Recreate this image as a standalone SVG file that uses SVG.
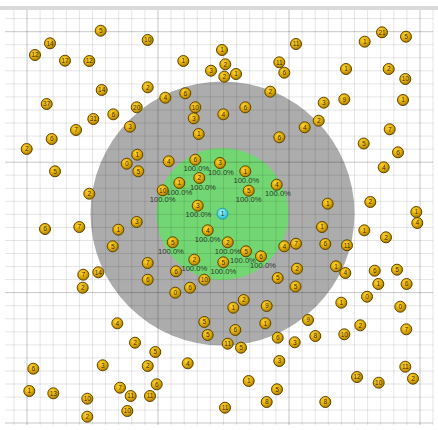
<svg xmlns="http://www.w3.org/2000/svg" width="438" height="430" viewBox="0 0 438 430">
<defs>
<radialGradient id="gy" cx="40%" cy="35%" r="65%">
<stop offset="0" stop-color="#ffd83a"/>
<stop offset="0.6" stop-color="#e0aa00"/>
<stop offset="1" stop-color="#a87c00"/>
</radialGradient>
<radialGradient id="gc" cx="40%" cy="35%" r="65%">
<stop offset="0" stop-color="#9ff4ff"/>
<stop offset="1" stop-color="#1fc0d8"/>
</radialGradient>
<style>
.mi{stroke:#000;stroke-opacity:0.1;stroke-width:1}
.ma{stroke:#000;stroke-opacity:0.22;stroke-width:1}
.nd{fill:url(#gy);stroke:#5e4500;stroke-width:1}
.cy{fill:url(#gc);stroke:#168ea0;stroke-width:0.8}
.nt{font-family:"Liberation Sans",Arial,sans-serif;font-size:6.5px;fill:#3c2a00;text-anchor:middle}
.lb{font-family:"Liberation Sans",Arial,sans-serif;font-size:7.6px;fill:#2a3a2a;text-anchor:middle}
</style>
</defs>
<rect width="438" height="430" fill="#ffffff"/>
<rect x="0" y="6" width="438" height="4" fill="#dadada"/>
<circle id="range-outer" cx="222.5" cy="213.5" r="132" fill="#acacac"/>
<circle id="range-inner" cx="222.5" cy="214" r="66" fill="#72d672"/>
<g id="grid">
<path class="mi" d="M5 18.6H433M5 44.7H433M5 57.8H433M5 70.8H433M5 83.9H433M5 96.9H433M5 110H433M5 123H433M5 136.1H433M5 149.1H433M5 175.2H433M5 188.3H433M5 201.3H433M5 214.4H433M5 227.4H433M5 240.5H433M5 253.5H433M5 266.6H433M5 279.6H433M5 305.7H433M5 318.8H433M5 331.8H433M5 344.9H433M5 357.9H433M5 371H433M5 384H433M5 397.1H433M5 410.1H433"/>
<path class="mi" d="M13.9 10V425M40.1 10V425M53.2 10V425M66.3 10V425M79.4 10V425M92.5 10V425M105.6 10V425M118.7 10V425M131.8 10V425M144.9 10V425M171.1 10V425M184.2 10V425M197.3 10V425M210.4 10V425M223.5 10V425M236.6 10V425M249.7 10V425M262.8 10V425M275.9 10V425M302.1 10V425M315.2 10V425M328.3 10V425M341.4 10V425M354.5 10V425M367.6 10V425M380.7 10V425M393.8 10V425M406.9 10V425M433 10V425"/>
<path class="ma" d="M5 31.7H433M5 162.2H433M5 292.6H433M5 423H433M27 10V425M158 10V425M289 10V425M420 10V425"/>
</g>
<g id="nodes">
<g id="n1"><circle class="nd" cx="100.7" cy="30.7" r="5.5"/><text class="nt" x="100.7" y="33">5</text></g>
<g id="n2"><circle class="nd" cx="50" cy="43.3" r="5.5"/><text class="nt" x="50" y="45.6">14</text></g>
<g id="n3"><circle class="nd" cx="35" cy="55" r="5.5"/><text class="nt" x="35" y="57.3">12</text></g>
<g id="n4"><circle class="nd" cx="65" cy="60.7" r="5.5"/><text class="nt" x="65" y="63">17</text></g>
<g id="n5"><circle class="nd" cx="89.3" cy="61" r="5.5"/><text class="nt" x="89.3" y="63.3">12</text></g>
<g id="n6"><circle class="nd" cx="101.7" cy="90" r="5.5"/><text class="nt" x="101.7" y="92.3">14</text></g>
<g id="n7"><circle class="nd" cx="46.7" cy="104" r="5.5"/><text class="nt" x="46.7" y="106.3">37</text></g>
<g id="n8"><circle class="nd" cx="113.3" cy="114.3" r="5.5"/><text class="nt" x="113.3" y="116.6">6</text></g>
<g id="n9"><circle class="nd" cx="93.3" cy="119" r="5.5"/><text class="nt" x="93.3" y="121.3">31</text></g>
<g id="n10"><circle class="nd" cx="136.7" cy="107.3" r="5.5"/><text class="nt" x="136.7" y="109.6">20</text></g>
<g id="n11"><circle class="nd" cx="130" cy="126.7" r="5.5"/><text class="nt" x="130" y="129">3</text></g>
<g id="n12"><circle class="nd" cx="76" cy="130" r="5.5"/><text class="nt" x="76" y="132.3">7</text></g>
<g id="n13"><circle class="nd" cx="51.7" cy="139" r="5.5"/><text class="nt" x="51.7" y="141.3">6</text></g>
<g id="n14"><circle class="nd" cx="147.7" cy="40" r="5.5"/><text class="nt" x="147.7" y="42.3">10</text></g>
<g id="n15"><circle class="nd" cx="222" cy="50" r="5.5"/><text class="nt" x="222" y="52.3">1</text></g>
<g id="n16"><circle class="nd" cx="183.3" cy="61" r="5.5"/><text class="nt" x="183.3" y="63.3">1</text></g>
<g id="n17"><circle class="nd" cx="225.3" cy="64.3" r="5.5"/><text class="nt" x="225.3" y="66.6">2</text></g>
<g id="n18"><circle class="nd" cx="211" cy="70.7" r="5.5"/><text class="nt" x="211" y="73">3</text></g>
<g id="n19"><circle class="nd" cx="224.3" cy="76.7" r="5.5"/><text class="nt" x="224.3" y="79">2</text></g>
<g id="n20"><circle class="nd" cx="236" cy="74" r="5.5"/><text class="nt" x="236" y="76.3">1</text></g>
<g id="n21"><circle class="nd" cx="279.3" cy="62.3" r="5.5"/><text class="nt" x="279.3" y="64.6">11</text></g>
<g id="n22"><circle class="nd" cx="284.3" cy="72.7" r="5.5"/><text class="nt" x="284.3" y="75">6</text></g>
<g id="n23"><circle class="nd" cx="147.7" cy="87.3" r="5.5"/><text class="nt" x="147.7" y="89.6">2</text></g>
<g id="n24"><circle class="nd" cx="165.3" cy="97.7" r="5.5"/><text class="nt" x="165.3" y="100">4</text></g>
<g id="n25"><circle class="nd" cx="185.3" cy="93.3" r="5.5"/><text class="nt" x="185.3" y="95.6">6</text></g>
<g id="n26"><circle class="nd" cx="195.3" cy="107.3" r="5.5"/><text class="nt" x="195.3" y="109.6">10</text></g>
<g id="n27"><circle class="nd" cx="193.7" cy="118.3" r="5.5"/><text class="nt" x="193.7" y="120.6">3</text></g>
<g id="n28"><circle class="nd" cx="223.3" cy="114.3" r="5.5"/><text class="nt" x="223.3" y="116.6">4</text></g>
<g id="n29"><circle class="nd" cx="245.3" cy="107.3" r="5.5"/><text class="nt" x="245.3" y="109.6">6</text></g>
<g id="n30"><circle class="nd" cx="270.3" cy="91.7" r="5.5"/><text class="nt" x="270.3" y="94">2</text></g>
<g id="n31"><circle class="nd" cx="198.7" cy="134" r="5.5"/><text class="nt" x="198.7" y="136.3">1</text></g>
<g id="n32"><circle class="nd" cx="279.3" cy="137.3" r="5.5"/><text class="nt" x="279.3" y="139.6">6</text></g>
<g id="n33"><circle class="nd" cx="296" cy="44" r="5.5"/><text class="nt" x="296" y="46.3">11</text></g>
<g id="n34"><circle class="nd" cx="364.7" cy="41.7" r="5.5"/><text class="nt" x="364.7" y="44">1</text></g>
<g id="n35"><circle class="nd" cx="382" cy="32.3" r="5.5"/><text class="nt" x="382" y="34.6">21</text></g>
<g id="n36"><circle class="nd" cx="406" cy="36.7" r="5.5"/><text class="nt" x="406" y="39">5</text></g>
<g id="n37"><circle class="nd" cx="346" cy="69" r="5.5"/><text class="nt" x="346" y="71.3">1</text></g>
<g id="n38"><circle class="nd" cx="388.7" cy="69" r="5.5"/><text class="nt" x="388.7" y="71.3">2</text></g>
<g id="n39"><circle class="nd" cx="405.3" cy="79" r="5.5"/><text class="nt" x="405.3" y="81.3">10</text></g>
<g id="n40"><circle class="nd" cx="323.7" cy="102.7" r="5.5"/><text class="nt" x="323.7" y="105">3</text></g>
<g id="n41"><circle class="nd" cx="344.3" cy="99.3" r="5.5"/><text class="nt" x="344.3" y="101.6">9</text></g>
<g id="n42"><circle class="nd" cx="403" cy="100" r="5.5"/><text class="nt" x="403" y="102.3">1</text></g>
<g id="n43"><circle class="nd" cx="318.7" cy="120.7" r="5.5"/><text class="nt" x="318.7" y="123">2</text></g>
<g id="n44"><circle class="nd" cx="304.7" cy="127.3" r="5.5"/><text class="nt" x="304.7" y="129.6">4</text></g>
<g id="n45"><circle class="nd" cx="389.7" cy="129.3" r="5.5"/><text class="nt" x="389.7" y="131.6">7</text></g>
<g id="n46"><circle class="nd" cx="363.7" cy="143.5" r="5.5"/><text class="nt" x="363.7" y="145.8">5</text></g>
<g id="n47"><circle class="nd" cx="398" cy="152.3" r="5.5"/><text class="nt" x="398" y="154.6">6</text></g>
<g id="n48"><circle class="nd" cx="383.7" cy="167.3" r="5.5"/><text class="nt" x="383.7" y="169.6">4</text></g>
<g id="n49"><circle class="nd" cx="327.7" cy="203.7" r="5.5"/><text class="nt" x="327.7" y="206">1</text></g>
<g id="n50"><circle class="nd" cx="370.3" cy="202" r="5.5"/><text class="nt" x="370.3" y="204.3">2</text></g>
<g id="n51"><circle class="nd" cx="416.3" cy="212" r="5.5"/><text class="nt" x="416.3" y="214.3">1</text></g>
<g id="n52"><circle class="nd" cx="417.3" cy="223" r="5.5"/><text class="nt" x="417.3" y="225.3">4</text></g>
<g id="n53"><circle class="nd" cx="322" cy="227" r="5.5"/><text class="nt" x="322" y="229.3">1</text></g>
<g id="n54"><circle class="nd" cx="364.3" cy="230.3" r="5.5"/><text class="nt" x="364.3" y="232.6">1</text></g>
<g id="n55"><circle class="nd" cx="386" cy="237.3" r="5.5"/><text class="nt" x="386" y="239.6">2</text></g>
<g id="n56"><circle class="nd" cx="296" cy="243.7" r="5.5"/><text class="nt" x="296" y="246">7</text></g>
<g id="n57"><circle class="nd" cx="325.3" cy="244" r="5.5"/><text class="nt" x="325.3" y="246.3">6</text></g>
<g id="n58"><circle class="nd" cx="347" cy="245.3" r="5.5"/><text class="nt" x="347" y="247.6">11</text></g>
<g id="n59"><circle class="nd" cx="297" cy="268.7" r="5.5"/><text class="nt" x="297" y="271">2</text></g>
<g id="n60"><circle class="nd" cx="336" cy="266.3" r="5.5"/><text class="nt" x="336" y="268.6">1</text></g>
<g id="n61"><circle class="nd" cx="345.3" cy="273" r="5.5"/><text class="nt" x="345.3" y="275.3">4</text></g>
<g id="n62"><circle class="nd" cx="374.7" cy="270.7" r="5.5"/><text class="nt" x="374.7" y="273">6</text></g>
<g id="n63"><circle class="nd" cx="397" cy="269.7" r="5.5"/><text class="nt" x="397" y="272">5</text></g>
<g id="n64"><circle class="nd" cx="378.3" cy="284" r="5.5"/><text class="nt" x="378.3" y="286.3">1</text></g>
<g id="n65"><circle class="nd" cx="406.6" cy="284" r="5.5"/><text class="nt" x="406.6" y="286.3">6</text></g>
<g id="n66"><circle class="nd" cx="295.5" cy="286.5" r="5.5"/><text class="nt" x="295.5" y="288.8">5</text></g>
<g id="n67"><circle class="nd" cx="26.7" cy="149" r="5.5"/><text class="nt" x="26.7" y="151.3">2</text></g>
<g id="n68"><circle class="nd" cx="55" cy="171.3" r="5.5"/><text class="nt" x="55" y="173.6">5</text></g>
<g id="n69"><circle class="nd" cx="89.3" cy="193.7" r="5.5"/><text class="nt" x="89.3" y="196">2</text></g>
<g id="n70"><circle class="nd" cx="45" cy="229" r="5.5"/><text class="nt" x="45" y="231.3">6</text></g>
<g id="n71"><circle class="nd" cx="79.3" cy="227" r="5.5"/><text class="nt" x="79.3" y="229.3">7</text></g>
<g id="n72"><circle class="nd" cx="118.3" cy="229.7" r="5.5"/><text class="nt" x="118.3" y="232">1</text></g>
<g id="n73"><circle class="nd" cx="136.7" cy="222" r="5.5"/><text class="nt" x="136.7" y="224.3">3</text></g>
<g id="n74"><circle class="nd" cx="112.7" cy="246.3" r="5.5"/><text class="nt" x="112.7" y="248.6">5</text></g>
<g id="n75"><circle class="nd" cx="126.7" cy="163.7" r="5.5"/><text class="nt" x="126.7" y="166">0</text></g>
<g id="n76"><circle class="nd" cx="137.3" cy="154.7" r="5.5"/><text class="nt" x="137.3" y="157">1</text></g>
<g id="n77"><circle class="nd" cx="138.3" cy="171.3" r="5.5"/><text class="nt" x="138.3" y="173.6">5</text></g>
<g id="n78"><circle class="nd" cx="98.3" cy="272.3" r="5.5"/><text class="nt" x="98.3" y="274.6">14</text></g>
<g id="n79"><circle class="nd" cx="83.3" cy="274.7" r="5.5"/><text class="nt" x="83.3" y="277">7</text></g>
<g id="n80"><circle class="nd" cx="168.7" cy="161.3" r="5.5"/><text class="nt" x="168.7" y="163.6">4</text></g>
<g id="n81"><circle class="nd" cx="195.3" cy="159.7" r="5.5"/><text class="nt" x="195.3" y="162">6</text><text class="lb" x="196.3" y="171.2">100.0%</text></g>
<g id="n82"><circle class="nd" cx="220" cy="163" r="5.5"/><text class="nt" x="220" y="165.3">3</text><text class="lb" x="221" y="174.5">100.0%</text></g>
<g id="n83"><circle class="nd" cx="245.3" cy="171.3" r="5.5"/><text class="nt" x="245.3" y="173.6">1</text><text class="lb" x="246.3" y="182.8">100.0%</text></g>
<g id="n84"><circle class="nd" cx="199.3" cy="178" r="5.5"/><text class="nt" x="199.3" y="180.3">2</text><text class="lb" x="203" y="189.5">100.0%</text></g>
<g id="n85"><circle class="nd" cx="179.3" cy="183" r="5.5"/><text class="nt" x="179.3" y="185.3">1</text><text class="lb" x="179.3" y="194.5">100.0%</text></g>
<g id="n86"><circle class="nd" cx="162.7" cy="190.3" r="5.5"/><text class="nt" x="162.7" y="192.6">10</text><text class="lb" x="162.7" y="201.8">100.0%</text></g>
<g id="n87"><circle class="nd" cx="248.7" cy="190.7" r="5.5"/><text class="nt" x="248.7" y="193">5</text><text class="lb" x="248.7" y="202.2">100.0%</text></g>
<g id="n88"><circle class="nd" cx="276.7" cy="184.7" r="5.5"/><text class="nt" x="276.7" y="187">4</text><text class="lb" x="278" y="196.2">100.0%</text></g>
<g id="n89"><circle class="nd" cx="197.7" cy="205.7" r="5.5"/><text class="nt" x="197.7" y="208">3</text><text class="lb" x="198.5" y="217.2">100.0%</text></g>
<g id="n90"><circle class="cy" cx="222.5" cy="213.7" r="5.5"/><text class="nt" x="222.5" y="216">1</text></g>
<g id="n91"><circle class="nd" cx="207.7" cy="230.3" r="5.5"/><text class="nt" x="207.7" y="232.6">4</text><text class="lb" x="207.7" y="241.8">100.0%</text></g>
<g id="n92"><circle class="nd" cx="172.7" cy="242.3" r="5.5"/><text class="nt" x="172.7" y="244.6">5</text><text class="lb" x="171" y="253.8">100.0%</text></g>
<g id="n93"><circle class="nd" cx="227.7" cy="242.3" r="5.5"/><text class="nt" x="227.7" y="244.6">2</text><text class="lb" x="227.7" y="253.8">100.0%</text></g>
<g id="n94"><circle class="nd" cx="246" cy="251.3" r="5.5"/><text class="nt" x="246" y="253.6">5</text><text class="lb" x="243" y="262.8">100.0%</text></g>
<g id="n95"><circle class="nd" cx="261" cy="256.3" r="5.5"/><text class="nt" x="261" y="258.6">6</text><text class="lb" x="263" y="268.4">100.0%</text></g>
<g id="n96"><circle class="nd" cx="194.3" cy="259.7" r="5.5"/><text class="nt" x="194.3" y="262">2</text><text class="lb" x="194.3" y="271.2">100.0%</text></g>
<g id="n97"><circle class="nd" cx="223.3" cy="262.3" r="5.5"/><text class="nt" x="223.3" y="264.6">5</text><text class="lb" x="223.3" y="273.8">100.0%</text></g>
<g id="n98"><circle class="nd" cx="176" cy="271.3" r="5.5"/><text class="nt" x="176" y="273.6">6</text></g>
<g id="n99"><circle class="nd" cx="204.3" cy="279.7" r="5.5"/><text class="nt" x="204.3" y="282">10</text></g>
<g id="n100"><circle class="nd" cx="284.3" cy="246.3" r="5.5"/><text class="nt" x="284.3" y="248.6">4</text></g>
<g id="n101"><circle class="nd" cx="277.7" cy="278" r="5.5"/><text class="nt" x="277.7" y="280.3">5</text></g>
<g id="n102"><circle class="nd" cx="147.7" cy="263" r="5.5"/><text class="nt" x="147.7" y="265.3">7</text></g>
<g id="n103"><circle class="nd" cx="147.7" cy="279.7" r="5.5"/><text class="nt" x="147.7" y="282">6</text></g>
<g id="n104"><circle class="nd" cx="82.7" cy="287.7" r="5.5"/><text class="nt" x="82.7" y="290">2</text></g>
<g id="n105"><circle class="nd" cx="117.3" cy="323.3" r="5.5"/><text class="nt" x="117.3" y="325.6">4</text></g>
<g id="n106"><circle class="nd" cx="135" cy="342.7" r="5.5"/><text class="nt" x="135" y="345">2</text></g>
<g id="n107"><circle class="nd" cx="33.3" cy="368.7" r="5.5"/><text class="nt" x="33.3" y="371">6</text></g>
<g id="n108"><circle class="nd" cx="102.7" cy="365.3" r="5.5"/><text class="nt" x="102.7" y="367.6">3</text></g>
<g id="n109"><circle class="nd" cx="147.7" cy="366" r="5.5"/><text class="nt" x="147.7" y="368.3">2</text></g>
<g id="n110"><circle class="nd" cx="29.3" cy="391" r="5.5"/><text class="nt" x="29.3" y="393.3">1</text></g>
<g id="n111"><circle class="nd" cx="53.3" cy="393.3" r="5.5"/><text class="nt" x="53.3" y="395.6">13</text></g>
<g id="n112"><circle class="nd" cx="87.3" cy="398.7" r="5.5"/><text class="nt" x="87.3" y="401">10</text></g>
<g id="n113"><circle class="nd" cx="120" cy="387.7" r="5.5"/><text class="nt" x="120" y="390">7</text></g>
<g id="n114"><circle class="nd" cx="130.7" cy="396" r="5.5"/><text class="nt" x="130.7" y="398.3">11</text></g>
<g id="n115"><circle class="nd" cx="127.3" cy="411" r="5.5"/><text class="nt" x="127.3" y="413.3">10</text></g>
<g id="n116"><circle class="nd" cx="87.3" cy="416.7" r="5.5"/><text class="nt" x="87.3" y="419">2</text></g>
<g id="n117"><circle class="nd" cx="175.3" cy="292.7" r="5.5"/><text class="nt" x="175.3" y="295">0</text></g>
<g id="n118"><circle class="nd" cx="190" cy="287.7" r="5.5"/><text class="nt" x="190" y="290">6</text></g>
<g id="n119"><circle class="nd" cx="243.7" cy="300" r="5.5"/><text class="nt" x="243.7" y="302.3">2</text></g>
<g id="n120"><circle class="nd" cx="233.3" cy="307.7" r="5.5"/><text class="nt" x="233.3" y="310">1</text></g>
<g id="n121"><circle class="nd" cx="266.7" cy="306" r="5.5"/><text class="nt" x="266.7" y="308.3">9</text></g>
<g id="n122"><circle class="nd" cx="204.3" cy="322" r="5.5"/><text class="nt" x="204.3" y="324.3">5</text></g>
<g id="n123"><circle class="nd" cx="235.3" cy="330" r="5.5"/><text class="nt" x="235.3" y="332.3">6</text></g>
<g id="n124"><circle class="nd" cx="265.3" cy="323.3" r="5.5"/><text class="nt" x="265.3" y="325.6">1</text></g>
<g id="n125"><circle class="nd" cx="207.7" cy="335" r="5.5"/><text class="nt" x="207.7" y="337.3">5</text></g>
<g id="n126"><circle class="nd" cx="227.7" cy="343.7" r="5.5"/><text class="nt" x="227.7" y="346">11</text></g>
<g id="n127"><circle class="nd" cx="241" cy="347.7" r="5.5"/><text class="nt" x="241" y="350">5</text></g>
<g id="n128"><circle class="nd" cx="277.7" cy="337.7" r="5.5"/><text class="nt" x="277.7" y="340">6</text></g>
<g id="n129"><circle class="nd" cx="294.7" cy="342.3" r="5.5"/><text class="nt" x="294.7" y="344.6">3</text></g>
<g id="n130"><circle class="nd" cx="155.3" cy="352" r="5.5"/><text class="nt" x="155.3" y="354.3">5</text></g>
<g id="n131"><circle class="nd" cx="187.7" cy="363.3" r="5.5"/><text class="nt" x="187.7" y="365.6">4</text></g>
<g id="n132"><circle class="nd" cx="279.3" cy="361" r="5.5"/><text class="nt" x="279.3" y="363.3">3</text></g>
<g id="n133"><circle class="nd" cx="156.7" cy="384.3" r="5.5"/><text class="nt" x="156.7" y="386.6">6</text></g>
<g id="n134"><circle class="nd" cx="150" cy="396" r="5.5"/><text class="nt" x="150" y="398.3">11</text></g>
<g id="n135"><circle class="nd" cx="248.7" cy="381" r="5.5"/><text class="nt" x="248.7" y="383.3">1</text></g>
<g id="n136"><circle class="nd" cx="277" cy="389.3" r="5.5"/><text class="nt" x="277" y="391.6">5</text></g>
<g id="n137"><circle class="nd" cx="266.7" cy="402" r="5.5"/><text class="nt" x="266.7" y="404.3">8</text></g>
<g id="n138"><circle class="nd" cx="225" cy="407.7" r="5.5"/><text class="nt" x="225" y="410">11</text></g>
<g id="n139"><circle class="nd" cx="341.3" cy="302.7" r="5.5"/><text class="nt" x="341.3" y="305">1</text></g>
<g id="n140"><circle class="nd" cx="367" cy="296.7" r="5.5"/><text class="nt" x="367" y="299">0</text></g>
<g id="n141"><circle class="nd" cx="400.3" cy="306.7" r="5.5"/><text class="nt" x="400.3" y="309">0</text></g>
<g id="n142"><circle class="nd" cx="308" cy="320" r="5.5"/><text class="nt" x="308" y="322.3">9</text></g>
<g id="n143"><circle class="nd" cx="315.3" cy="336" r="5.5"/><text class="nt" x="315.3" y="338.3">8</text></g>
<g id="n144"><circle class="nd" cx="344.3" cy="334.3" r="5.5"/><text class="nt" x="344.3" y="336.6">10</text></g>
<g id="n145"><circle class="nd" cx="360.3" cy="325.3" r="5.5"/><text class="nt" x="360.3" y="327.6">2</text></g>
<g id="n146"><circle class="nd" cx="406.3" cy="329.3" r="5.5"/><text class="nt" x="406.3" y="331.6">7</text></g>
<g id="n147"><circle class="nd" cx="405.3" cy="366.7" r="5.5"/><text class="nt" x="405.3" y="369">11</text></g>
<g id="n148"><circle class="nd" cx="413" cy="378.7" r="5.5"/><text class="nt" x="413" y="381">2</text></g>
<g id="n149"><circle class="nd" cx="357" cy="377" r="5.5"/><text class="nt" x="357" y="379.3">12</text></g>
<g id="n150"><circle class="nd" cx="378.7" cy="382.7" r="5.5"/><text class="nt" x="378.7" y="385">10</text></g>
<g id="n151"><circle class="nd" cx="325.3" cy="402" r="5.5"/><text class="nt" x="325.3" y="404.3">8</text></g>
</g>
<g id="connectors"></g>
</svg>
